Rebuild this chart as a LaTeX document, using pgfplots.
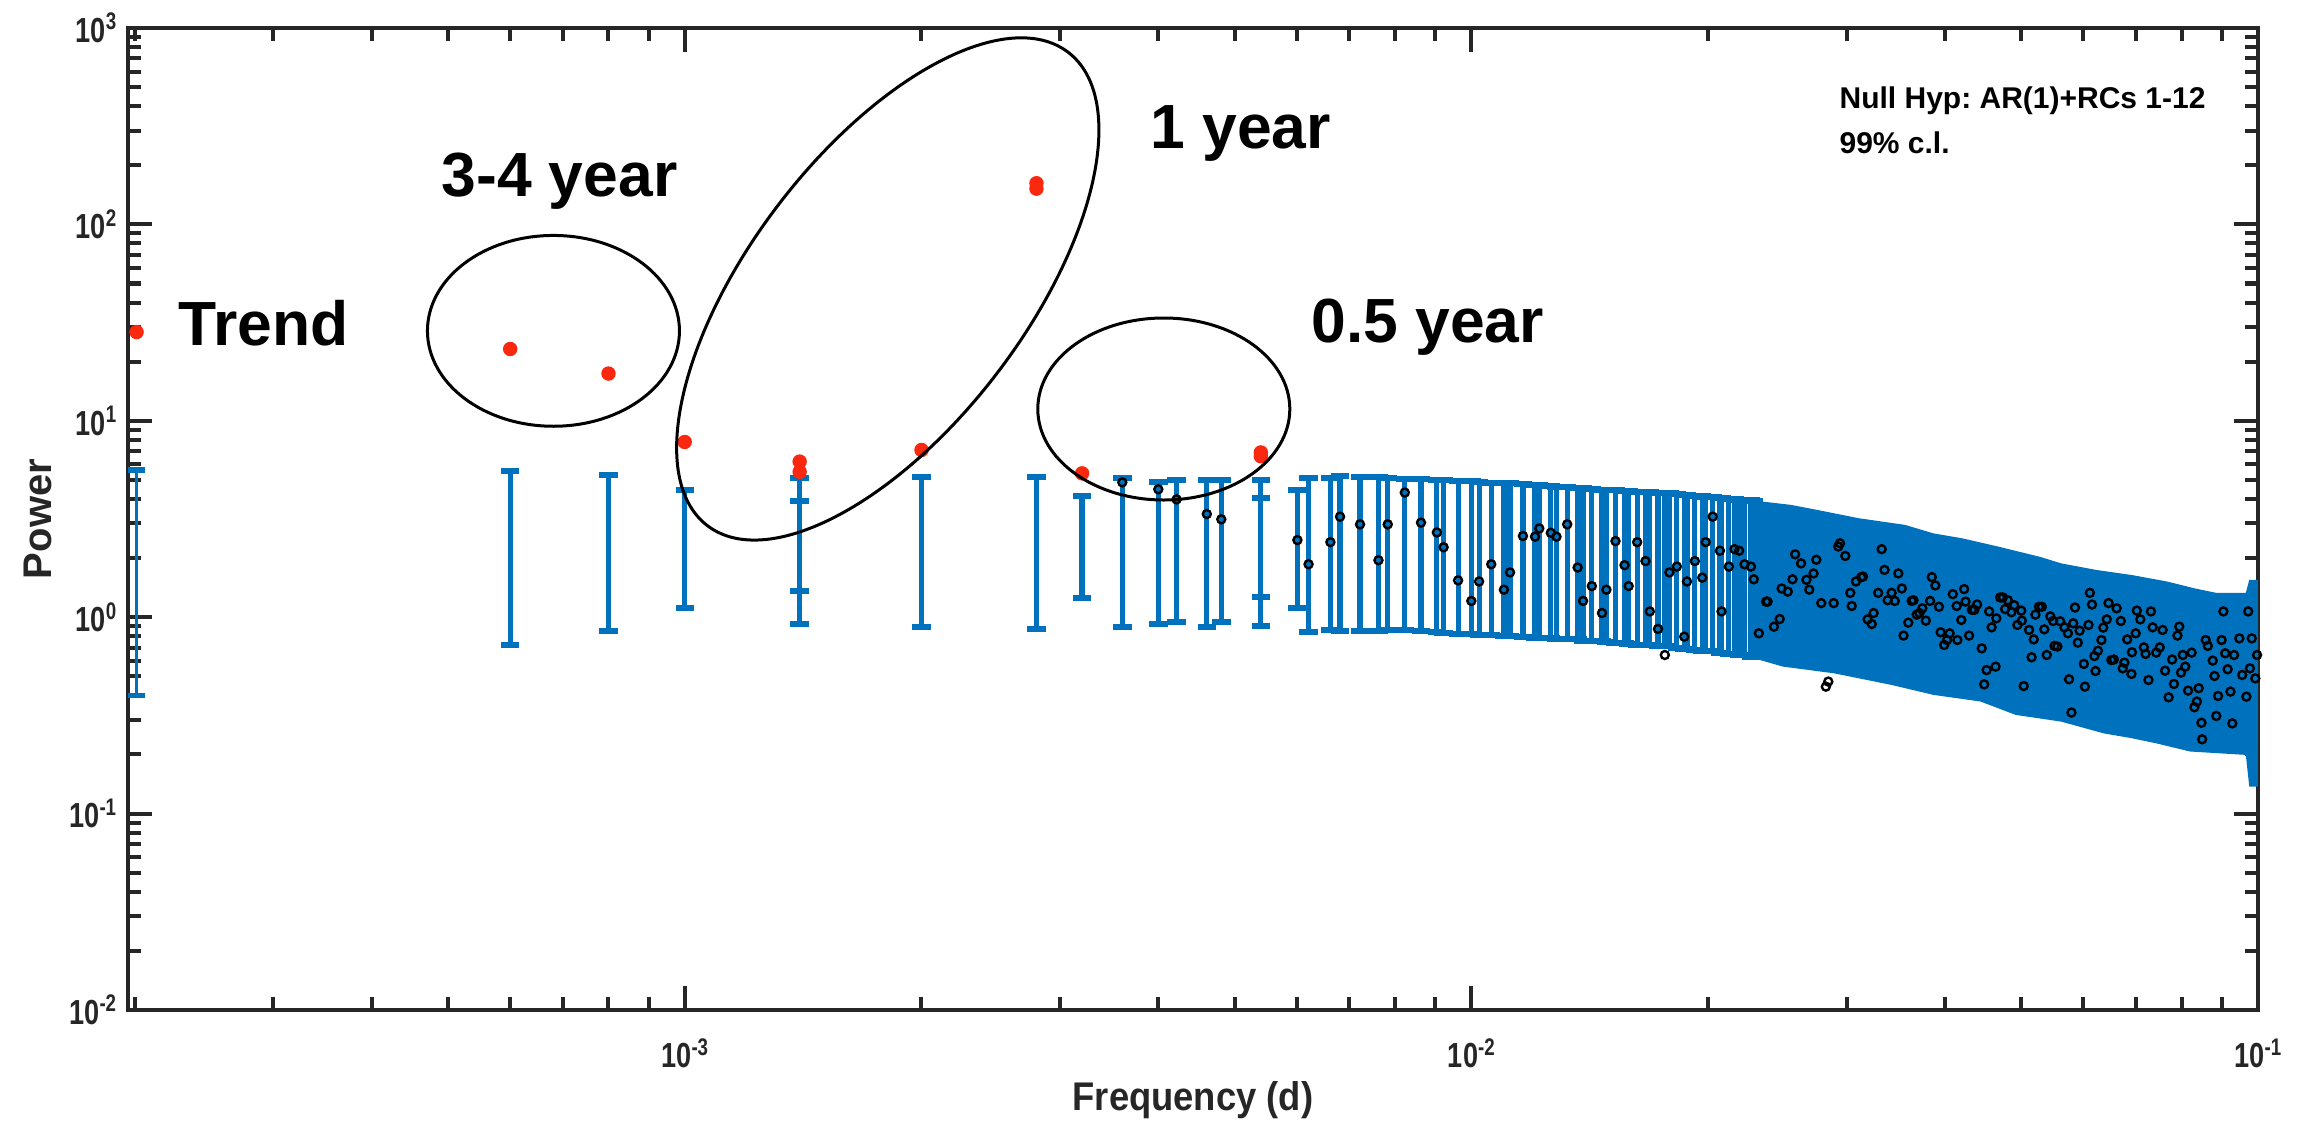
\documentclass[border=0pt]{standalone}
\usepackage{graphicx}
\usepackage{pgfplots}
\pgfplotsset{compat=1.18}
\usepackage{pgfplotstable}
\usetikzlibrary{shapes.geometric}
\usepackage{fontspec}
\setmainfont{Liberation Sans}
\newfontfamily\condfont[FakeStretch=0.78]{Liberation Sans}
\definecolor{mblue}{RGB}{0,114,189}
\definecolor{mred}{RGB}{250,40,15}
\definecolor{axgray}{RGB}{38,38,38}
\newcommand\tl[1]{10\raisebox{3.1pt}{\fontsize{6}{6}\selectfont #1}}
\frenchspacing

\pgfplotstableread{
f lo hi
6e-4 0.72 5.55
8e-4 0.854 5.27
1e-3 1.12 4.44
1.4e-3 0.923 5.09
1.4e-3 1.354 3.92
2e-3 0.887 5.19
2.8e-3 0.867 5.15
3.2e-3 1.25 4.16
3.6e-3 0.887 5.09
4.0e-3 0.923 4.90
4.22e-3 0.942 4.99
4.61e-3 0.895 4.99
4.81e-3 0.942 4.99
5.4e-3 0.90 4.99
5.4e-3 1.27 4.03
6.01e-3 1.11 4.44
6.21e-3 0.838 5.09
6.62e-3 0.86 5.10
6.81e-3 0.85 5.24
7.22e-3 0.85 5.15
7.62e-3 0.85 5.15
7.83e-3 0.86 5.10
8.23e-3 0.86 5.05
8.63e-3 0.85 5.05
9.04e-3 0.84 5.00
9.22e-3 0.83 5.00
9.62e-3 0.82 4.95
1.00e-2 0.82 4.95
1.023e-2 0.81 4.90
1.06e-2 0.81 4.85
1.10e-2 0.80 4.80
1.12e-2 0.80 4.80
1.163e-2 0.79 4.75
1.205e-2 0.78 4.70
1.22e-2 0.78 4.70
1.262e-2 0.78 4.65
1.283e-2 0.77 4.60
1.324e-2 0.77 4.60
1.365e-2 0.77 4.55
1.387e-2 0.76 4.55
1.423e-2 0.76 4.50
1.466e-2 0.76 4.45
1.485e-2 0.75 4.45
1.525e-2 0.74 4.45
1.566e-2 0.74 4.40
1.585e-2 0.73 4.40
1.625e-2 0.72 4.36
1.665e-2 0.72 4.33
1.686e-2 0.72 4.32
1.727e-2 0.71 4.30
1.762e-2 0.71 4.28
1.786e-2 0.71 4.27
1.825e-2 0.70 4.25
1.865e-2 0.69 4.20
1.88e-2 0.69 4.20
1.924e-2 0.68 4.15
1.966e-2 0.67 4.12
1.986e-2 0.67 4.10
2.027e-2 0.67 4.08
2.07e-2 0.66 4.05
2.08e-2 0.66 4.05
2.125e-2 0.65 4.00
2.16e-2 0.65 3.98
2.19e-2 0.645 3.96
2.225e-2 0.64 3.95
2.267e-2 0.63 3.93
2.286e-2 0.63 3.92
}\bars

\pgfplotstableread{
f P
3.6e-3 4.86
4.0e-3 4.48
4.22e-3 3.98
4.61e-3 3.35
4.81e-3 3.15
6.01e-3 2.47
6.21e-3 1.86
6.62e-3 2.41
6.81e-3 3.25
7.22e-3 2.97
7.62e-3 1.95
7.83e-3 2.97
8.23e-3 4.31
8.63e-3 3.03
9.04e-3 2.70
9.22e-3 2.27
9.62e-3 1.54
1.00e-2 1.21
1.023e-2 1.52
1.06e-2 1.86
1.10e-2 1.38
1.12e-2 1.69
1.163e-2 2.59
1.205e-2 2.57
1.22e-2 2.83
1.262e-2 2.69
1.283e-2 2.57
1.324e-2 2.97
1.365e-2 1.79
1.387e-2 1.21
1.423e-2 1.44
1.466e-2 1.05
1.485e-2 1.38
1.525e-2 2.44
1.566e-2 1.84
1.585e-2 1.44
1.625e-2 2.41
1.665e-2 1.93
1.686e-2 1.07
1.727e-2 0.871
1.762e-2 0.642
1.786e-2 1.69
1.825e-2 1.81
1.865e-2 0.796
1.88e-2 1.52
1.924e-2 1.93
1.966e-2 1.59
1.986e-2 2.41
2.027e-2 3.25
2.07e-2 2.18
2.08e-2 1.07
2.125e-2 1.81
2.16e-2 2.22
2.19e-2 2.18
2.225e-2 1.86
2.267e-2 1.81
2.286e-2 1.56
2.32e-2 0.828
2.37e-2 1.20
2.38e-2 1.20
2.425e-2 0.895
2.466e-2 0.979
2.48e-2 1.40
2.525e-2 1.35
2.56e-2 1.56
2.58e-2 2.09
2.625e-2 1.88
2.667e-2 1.55
2.689e-2 1.38
2.723e-2 1.67
2.745e-2 1.96
2.785e-2 1.18
2.823e-2 0.443
2.843e-2 0.470
2.888e-2 1.18
2.927e-2 2.29
2.942e-2 2.38
2.988e-2 2.05
3.032e-2 1.33
3.045e-2 1.14
3.083e-2 1.52
3.131e-2 1.60
3.147e-2 1.61
3.190e-2 0.975
3.229e-2 0.923
3.246e-2 1.05
3.290e-2 1.33
3.324e-2 2.22
3.352e-2 1.74
3.383e-2 1.22
3.422e-2 1.33
3.454e-2 1.21
3.490e-2 1.67
3.526e-2 1.40
3.544e-2 0.806
3.593e-2 0.938
3.630e-2 1.21
3.648e-2 1.22
3.683e-2 1.03
3.713e-2 1.05
3.744e-2 1.11
3.783e-2 0.96
3.830e-2 1.21
3.850e-2 1.60
3.890e-2 1.45
3.931e-2 1.13
3.951e-2 0.838
3.992e-2 0.722
4.025e-2 0.765
4.055e-2 0.828
4.093e-2 1.31
4.140e-2 1.14
4.148e-2 0.765
4.196e-2 0.968
4.231e-2 1.39
4.249e-2 1.20
4.293e-2 0.806
4.329e-2 1.09
4.360e-2 1.09
4.395e-2 1.16
4.455e-2 0.694
4.487e-2 0.455
4.519e-2 0.538
4.553e-2 1.07
4.586e-2 0.888
4.639e-2 0.560
4.649e-2 0.987
4.701e-2 1.26
4.740e-2 1.26
4.770e-2 1.10
4.809e-2 1.22
4.859e-2 1.06
4.900e-2 1.15
4.945e-2 0.913
5.001e-2 1.08
5.010e-2 0.96
5.038e-2 0.446
5.117e-2 0.861
5.155e-2 0.625
5.187e-2 0.771
5.213e-2 1.03
5.268e-2 1.13
5.312e-2 1.13
5.350e-2 0.867
5.389e-2 0.642
5.445e-2 1.01
5.490e-2 0.956
5.513e-2 0.714
5.559e-2 0.709
5.605e-2 0.953
5.675e-2 0.888
5.733e-2 0.828
5.752e-2 0.483
5.793e-2 0.327
5.823e-2 0.931
5.853e-2 1.12
5.902e-2 0.742
5.933e-2 0.854
6.007e-2 0.578
6.026e-2 0.443
6.089e-2 0.913
6.114e-2 1.33
6.152e-2 1.16
6.196e-2 0.634
6.216e-2 0.532
6.260e-2 0.675
6.325e-2 0.765
6.358e-2 0.885
6.424e-2 0.975
6.457e-2 1.18
6.511e-2 0.605
6.559e-2 0.609
6.613e-2 1.11
6.694e-2 0.956
6.730e-2 0.549
6.764e-2 0.587
6.820e-2 0.771
6.905e-2 0.514
6.915e-2 0.663
6.991e-2 0.828
7.015e-2 1.08
7.087e-2 0.975
7.161e-2 0.702
7.198e-2 0.650
7.258e-2 0.479
7.311e-2 1.07
7.348e-2 0.888
7.425e-2 0.660
7.502e-2 0.702
7.565e-2 0.861
7.620e-2 0.534
7.699e-2 0.391
7.780e-2 0.609
7.820e-2 0.457
7.902e-2 0.806
7.943e-2 0.895
7.984e-2 0.522
8.025e-2 0.642
8.083e-2 0.560
8.150e-2 0.423
8.235e-2 0.660
8.303e-2 0.348
8.362e-2 0.372
8.406e-2 0.435
8.476e-2 0.290
8.493e-2 0.239
8.582e-2 0.765
8.635e-2 0.714
8.760e-2 0.601
8.806e-2 0.502
8.852e-2 0.314
8.898e-2 0.397
8.991e-2 0.765
9.037e-2 1.07
9.085e-2 0.655
9.150e-2 0.543
9.227e-2 0.418
9.276e-2 0.288
9.324e-2 0.642
9.469e-2 0.780
9.548e-2 0.508
9.667e-2 0.394
9.718e-2 1.07
9.768e-2 0.549
9.820e-2 0.780
9.922e-2 0.488
9.973e-2 0.642
}\circles

\begin{document}
\begin{tikzpicture}
\begin{axis}[
  name=ax,
  xmode=log, ymode=log,
  scale only axis, width=532.5pt, height=245.5pt,
  xmin=1.96e-4, xmax=0.1, ymin=1e-2, ymax=1e3,
  axis line style={line width=1.1pt, axgray},
  tick align=inside,
  xtick pos=both, ytick pos=both,
  xtick={1e-3,1e-2,1e-1}, xticklabels={\tl{-3},\tl{-2},\tl{-1}},
  ytick={1e-2,1e-1,1,10,100,1000},
  yticklabels={\tl{-2},\tl{-1},\tl{0},\tl{1},\tl{2},\tl{3}},
  minor xtick={2e-4,3e-4,4e-4,5e-4,6e-4,7e-4,8e-4,9e-4,2e-3,3e-3,4e-3,5e-3,6e-3,7e-3,8e-3,9e-3,2e-2,3e-2,4e-2,5e-2,6e-2,7e-2,8e-2,9e-2},
  minor ytick={0.02,0.03,0.04,0.05,0.06,0.07,0.08,0.09,0.2,0.3,0.4,0.5,0.6,0.7,0.8,0.9,2,3,4,5,6,7,8,9,20,30,40,50,60,70,80,90,200,300,400,500,600,700,800,900},
  major tick length=6pt, minor tick length=3.2pt,
  every tick/.style={line width=1pt, axgray},
  tick label style={font=\condfont\bfseries\fontsize{8.7}{9}\selectfont, text=axgray},
  xticklabel style={anchor=north, inner sep=0pt, yshift=-7pt},
  yticklabel style={anchor=east, inner sep=0pt, xshift=-2.75pt},
  every axis x label/.style={at={(axis description cs:0.5,-0.102)}, anchor=base, inner sep=0pt},
  every axis y label/.style={at={(axis description cs:-0.0357,0.5)}, rotate=90, anchor=base, inner sep=0pt},
  label style={font=\bfseries\fontsize{10}{12}\selectfont, text=axgray},
  xlabel={\scalebox{0.91}[1]{Frequency (d)}},
  ylabel={Power},
  clip mode=individual,
]
% continuous band of overlapping error bars
\addplot[fill=mblue, draw=none] coordinates {
(2.28e-2,3.93) (2.55e-2,3.73) (2.75e-2,3.52) (3.11e-2,3.19) (3.56e-2,2.95) (3.87e-2,2.67) (4.21e-2,2.52) (4.67e-2,2.29) (5.28e-2,2.03) (5.62e-2,1.88) (6.23e-2,1.74) (6.91e-2,1.64) (7.66e-2,1.52) (8.32e-2,1.40) (8.85e-2,1.33) (9.65e-2,1.33) (9.75e-2,1.55) (0.1,1.55)
(0.1,0.137) (9.75e-2,0.137) (9.65e-2,0.199) (8.2e-2,0.207) (7.42e-2,0.228) (6.91e-2,0.242) (6.37e-2,0.256) (5.62e-2,0.294) (4.92e-2,0.318) (4.44e-2,0.372) (3.87e-2,0.402) (3.42e-2,0.452) (2.89e-2,0.518) (2.49e-2,0.56) (2.28e-2,0.62)};
% individual error bars: lower caps as marks, stems as error bars
\addplot[only marks, mark=-, mark size=2.3pt, mblue, mark options={line width=1.5pt, mblue},
  error bars/.cd, y dir=plus, y explicit, error mark=none,
  error bar style={line width=1.3pt, mblue}]
  table[x=f, y=lo, y error expr={\thisrow{hi}-\thisrow{lo}}] {\bars};
% upper caps
\addplot[only marks, mark=-, mark size=2.3pt, mblue, mark options={line width=1.5pt, mblue}]
  table[x=f, y=hi] {\bars};
% trend bar (thin)
\addplot[only marks, mark=-, mark size=2.1pt, mblue, mark options={line width=1.4pt, mblue},
  error bars/.cd, y dir=plus, y explicit, error mark=none,
  error bar style={line width=0.7pt, mblue}]
  coordinates {(2.01e-4,0.40) +- (0,5.22)};
\addplot[only marks, mark=-, mark size=2.1pt, mblue, mark options={line width=1.4pt, mblue}]
  coordinates {(2.01e-4,5.62)};
% data points
\addplot[only marks, mark=o, mark size=1.0pt, black, mark options={line width=0.6pt}]
  table[x=f, y=P] {\circles};
\addplot[only marks, mark=*, mark size=1.6pt, mred] coordinates {
(2.01e-4,28.3) (6e-4,23.2) (8e-4,17.4) (1e-3,7.8) (1.4e-3,6.2) (1.4e-3,5.5) (2e-3,7.1)
(2.8e-3,162) (2.8e-3,152) (3.2e-3,5.4) (5.4e-3,6.9) (5.4e-3,6.6)};
% annotations
\node[draw, ellipse, line width=0.75pt, inner sep=0pt, minimum width=63pt, minimum height=47.7pt] at (axis cs:6.81e-4,28.7) {};
\node[draw, ellipse, line width=0.75pt, inner sep=0pt, minimum width=148.8pt, minimum height=69pt, rotate=52.7] at (axis cs:1.812e-3,46.9) {};
\node[draw, ellipse, line width=0.75pt, inner sep=0pt, minimum width=63pt, minimum height=45.5pt] at (axis cs:4.065e-3,11.48) {};
\node[anchor=base west, inner sep=0pt, font=\bfseries\fontsize{15.6}{18}\selectfont] at (axis cs:2.266e-4,24.3) {Trend};
\node[anchor=base west, inner sep=0pt, font=\bfseries\fontsize{15.6}{18}\selectfont] at (axis cs:4.896e-4,137.9) {3-4 year};
\node[anchor=base west, inner sep=0pt, font=\bfseries\fontsize{15.6}{18}\selectfont] at (axis cs:3.90e-3,242) {1 year};
\node[anchor=base west, inner sep=0pt, font=\bfseries\fontsize{15.6}{18}\selectfont] at (axis cs:6.25e-3,24.9) {0.5 year};
\node[anchor=base west, inner sep=0pt, font=\bfseries\fontsize{7.5}{9}\selectfont] at (axis cs:2.932e-2,386.9) {Null Hyp: AR(1)+RCs 1-12};
\node[anchor=base west, inner sep=0pt, font=\bfseries\fontsize{7.5}{9}\selectfont] at (axis cs:2.932e-2,228.3) {99\% c.l.};
\end{axis}
\path (ax.south west) ++(-32pt,-30.25pt) rectangle ([shift={(11.5pt,7pt)}]ax.north east);
\end{tikzpicture}
\end{document}
